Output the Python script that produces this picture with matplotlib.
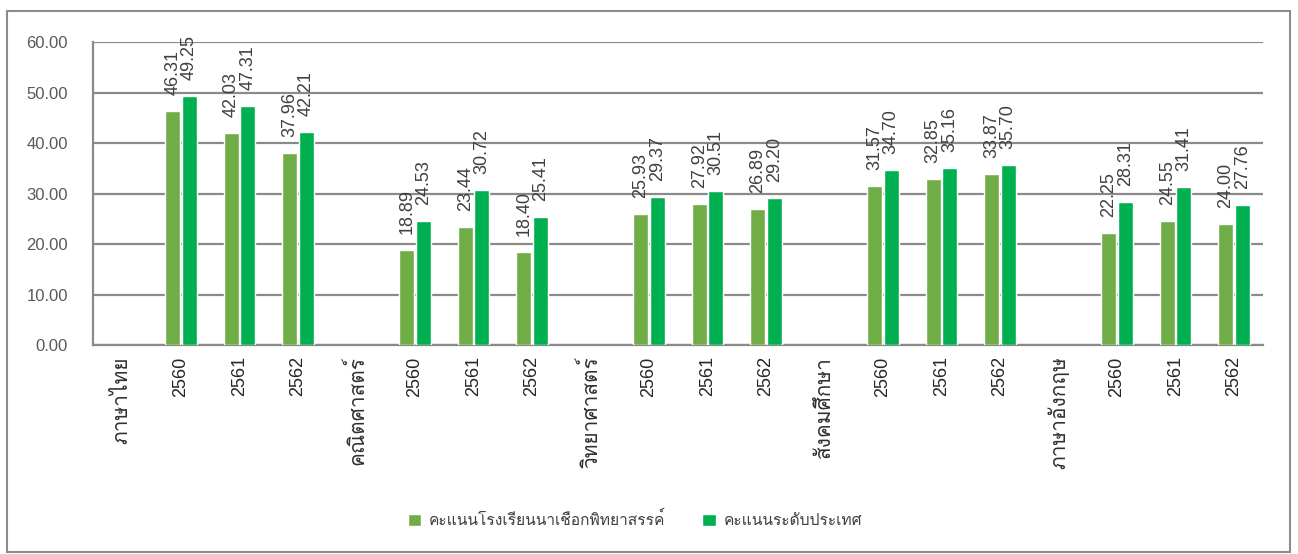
import numpy as np
import matplotlib
matplotlib.use("Agg")
import matplotlib.pyplot as plt
from matplotlib import font_manager
from matplotlib.ft2font import FT2Font
from matplotlib.patches import Rectangle

categories = ["ภาษาไทย", "2560", "2561", "2562",
              "คณิตศาสตร์", "2560", "2561", "2562",
              "วิทยาศาสตร์", "2560", "2561", "2562",
              "สังคมศึกษา", "2560", "2561", "2562",
              "ภาษาอังกฤษ", "2560", "2561", "2562"]
school = [None, 46.31, 42.03, 37.96,
          None, 18.89, 23.44, 18.40,
          None, 25.93, 27.92, 26.89,
          None, 31.57, 32.85, 33.87,
          None, 22.25, 24.55, 24.00]
national = [None, 49.25, 47.31, 42.21,
            None, 24.53, 30.72, 25.41,
            None, 29.37, 30.51, 29.20,
            None, 34.70, 35.16, 35.70,
            None, 28.31, 31.41, 27.76]
series_names = ["คะแนนโรงเรียนนาเชือกพิทยาสรรค์", "คะแนนระดับประเทศ"]

# look for a font with thai glyphs, looped ones first
prefer = ["Loma", "Garuda", "Noto Sans Thai Looped", "Tlwg Typo", "Umpush", "Noto Sans Thai"]
cands = []
for f in font_manager.fontManager.ttflist:
    try:
        if FT2Font(f.fname).get_char_index(ord("ก")):
            cands.append(f.name)
    except Exception:
        pass
thai_font = None
for p in prefer:
    if p in cands:
        thai_font = p
        break
if thai_font is None and cands:
    thai_font = sorted(cands)[0]

num_fams = ["Liberation Sans", "DejaVu Sans"]
thai_fams = [thai_font, "DejaVu Sans"] if thai_font else ["DejaVu Sans"]
plt.rcParams["font.family"] = num_fams + ([thai_font] if thai_font else [])

fig = plt.figure(figsize=(12.98, 5.54), dpi=100)
ax = fig.add_axes([0.0716, 0.377, 0.9014, 0.547])

fig.patches.append(Rectangle((0.0055, 0.004), 0.988, 0.976, transform=fig.transFigure,
                             fill=False, edgecolor="#8c8c8c", linewidth=1.5))

x = np.arange(len(categories))
s_vals = np.array([np.nan if v is None else v for v in school])
n_vals = np.array([np.nan if v is None else v for v in national])
w = 0.26
b1 = ax.bar(x - 0.135, s_vals, w, color="#70AD47", edgecolor="white", linewidth=1, label=series_names[0], zorder=3)
b2 = ax.bar(x + 0.145, n_vals, w, color="#00B050", edgecolor="white", linewidth=1, label=series_names[1], zorder=3)

for bars, vals in [(b1, s_vals), (b2, n_vals)]:
    for r, v in zip(bars, vals):
        if np.isnan(v):
            continue
        ax.annotate("%.2f" % v, (r.get_x() + r.get_width() / 2, v), xytext=(0, 16),
                    textcoords="offset pixels", rotation=90, ha="center", va="bottom",
                    fontsize=13, color="#404040", family=num_fams, zorder=4)

ax.set_xlim(-0.5, len(categories) - 0.5)
ax.set_ylim(0, 60)
ax.set_yticks(np.arange(0, 61, 10))
ax.set_yticklabels(["%.2f" % t for t in np.arange(0, 61, 10)], fontsize=12, color="#595959")
ax.set_xticks(x)
ax.set_xticklabels(categories, rotation=90, fontsize=13, color="#262626", va="top")
for lab in ax.get_xticklabels():
    if not lab.get_text().isdigit():
        lab.set_family(thai_fams)
        lab.set_fontsize(15)
        lab.set_color("#303030")
ax.tick_params(axis="x", length=0, pad=8)
ax.tick_params(axis="y", length=0, pad=18)
ax.grid(axis="y", color="#8a8a8a", linewidth=1.6, zorder=0)
for s in ["top", "right"]:
    ax.spines[s].set_visible(False)
for s in ["left", "bottom"]:
    ax.spines[s].set_color("#8a8a8a")
    ax.spines[s].set_linewidth(1.6)

leg = fig.legend(handles=[b1, b2], labels=series_names, loc="center", bbox_to_anchor=(0.489, 0.062),
                 ncol=2, frameon=False, fontsize=11.2, handlelength=0.85, handleheight=0.85,
                 columnspacing=2.4, handletextpad=0.5, labelcolor="#404040")
for t in leg.get_texts():
    t.set_family(thai_fams)

fig.savefig("out.png", dpi=100)
